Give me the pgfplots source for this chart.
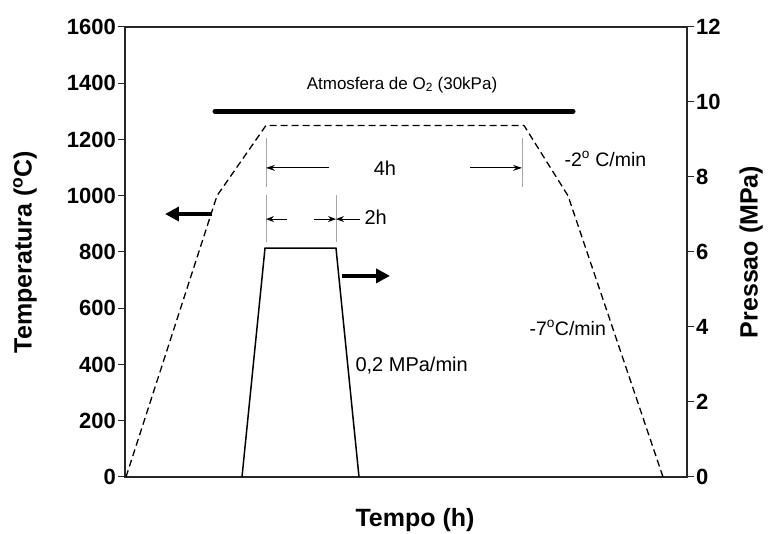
\documentclass[border=0pt]{standalone}
\usepackage{fontspec}
\setmainfont{Liberation Sans}
\usepackage{pgfplots}
\pgfplotsset{compat=1.18}
\usetikzlibrary{arrows.meta}

\begin{document}
\begin{tikzpicture}[x=1pt,y=1pt]
\useasboundingbox (0,0) rectangle (772,534);
% temperature axis (left)
\begin{axis}[
  at={(125pt,57pt)}, anchor=south west,
  scale only axis, width=562pt, height=450pt,
  xmin=0, xmax=562, ymin=0, ymax=1600,
  xtick=\empty, ytick={0,200,...,1600},
  ytick pos=left, tick align=outside,
  major tick length=7pt,
  axis line style={line width=1.3pt, black!85},
  every tick/.style={line width=1pt, black!85},
  /pgf/number format/assume math mode=true,
  /pgf/number format/1000 sep={},
  yticklabel style={font=\fontsize{22}{24}\selectfont\bfseries, inner sep=2pt},
  xlabel={Tempo (h)},
  ylabel={Temperatura (\textsuperscript{o}C)},
  label style={font=\fontsize{25}{27}\selectfont\bfseries},
  xlabel style={at={(axis description cs:0.516,-0.096)}, anchor=center},
  ylabel style={at={(axis description cs:-0.178,0.5)}, anchor=center},
  clip=false,
]
% heating / dwell / cooling profile
\addplot[black, line width=1.3pt, dash pattern=on 7pt off 4pt]
  coordinates {(1,0) (92,1000) (141,1250) (399,1250) (443,1000) (538,0)};
% oxygen atmosphere bar
\addplot[black, line width=5pt, line cap=round]
  coordinates {(90,1300) (448,1300)};

\node[font=\fontsize{17}{18}\selectfont] at (axis cs:277,1394)
  {Atmosfera de O\textsubscript{2} (30kPa)};

% 4 h dwell markers
\draw[gray!70, line width=1pt] (axis cs:141,1205) -- (axis cs:141,1031);
\draw[gray!70, line width=1pt] (axis cs:397,1205) -- (axis cs:397,1031);
\draw[black, line width=1pt, -{Stealth[length=9pt,width=6pt]}]
  (axis cs:204,1099) -- (axis cs:141,1099);
\draw[black, line width=1pt, -{Stealth[length=9pt,width=6pt]}]
  (axis cs:345,1099) -- (axis cs:397,1099);
\node[font=\fontsize{20}{22}\selectfont] at (axis cs:260,1099) {4h};

% 2 h pressure markers
\draw[gray!70, line width=1pt] (axis cs:141,1003) -- (axis cs:141,836);
\draw[gray!70, line width=1pt] (axis cs:211,1003) -- (axis cs:211,836);
\draw[black, line width=1pt, -{Stealth[length=8pt,width=6pt]}]
  (axis cs:162,917) -- (axis cs:141,917);
\draw[black, line width=1pt, -{Stealth[length=8pt,width=6pt]}]
  (axis cs:189,917) -- (axis cs:211,917);
\draw[black, line width=1pt, -{Stealth[length=8pt,width=6pt]}]
  (axis cs:235,917) -- (axis cs:211,917);
\node[font=\fontsize{20}{22}\selectfont, anchor=west] at (axis cs:236,924) {2h};

% axis pointers
\draw[black, line width=4.5pt, -{Triangle[length=14pt,width=14pt]}]
  (axis cs:87,935) -- (axis cs:40,935);
\draw[black, line width=4.5pt, -{Triangle[length=14pt,width=14pt]}]
  (axis cs:217,715) -- (axis cs:265,715);

% rates
\node[font=\fontsize{19.5}{22}\selectfont, anchor=west] at (axis cs:436,1131)
  {-2\textsuperscript{o} C/min};
\node[font=\fontsize{19.5}{22}\selectfont, anchor=west] at (axis cs:401,530)
  {-7\textsuperscript{o}C/min};
\node[font=\fontsize{20}{22}\selectfont, anchor=west] at (axis cs:227,398)
  {0,2 MPa/min};
\end{axis}

% pressure axis (right)
\begin{axis}[
  at={(125pt,57pt)}, anchor=south west,
  scale only axis, width=562pt, height=450pt,
  xmin=0, xmax=562, ymin=0, ymax=12,
  ytick={0,2,...,12},
  axis y line*=right, axis x line=none,
  tick align=outside, major tick length=7pt,
  axis line style={line width=1.3pt, black!85},
  every tick/.style={line width=1pt, black!85},
  /pgf/number format/assume math mode=true,
  yticklabel style={font=\fontsize{22}{24}\selectfont\bfseries, inner sep=2pt},
  ylabel={Pressao (MPa)},
  label style={font=\fontsize{25}{27}\selectfont\bfseries},
  ylabel style={at={(axis description cs:1.114,0.5)}, anchor=center},
  clip=false,
]
\addplot[black, line width=1.5pt]
  coordinates {(117,0) (140,6.1) (211,6.1) (234,0)};
\end{axis}
\end{tikzpicture}
\end{document}
